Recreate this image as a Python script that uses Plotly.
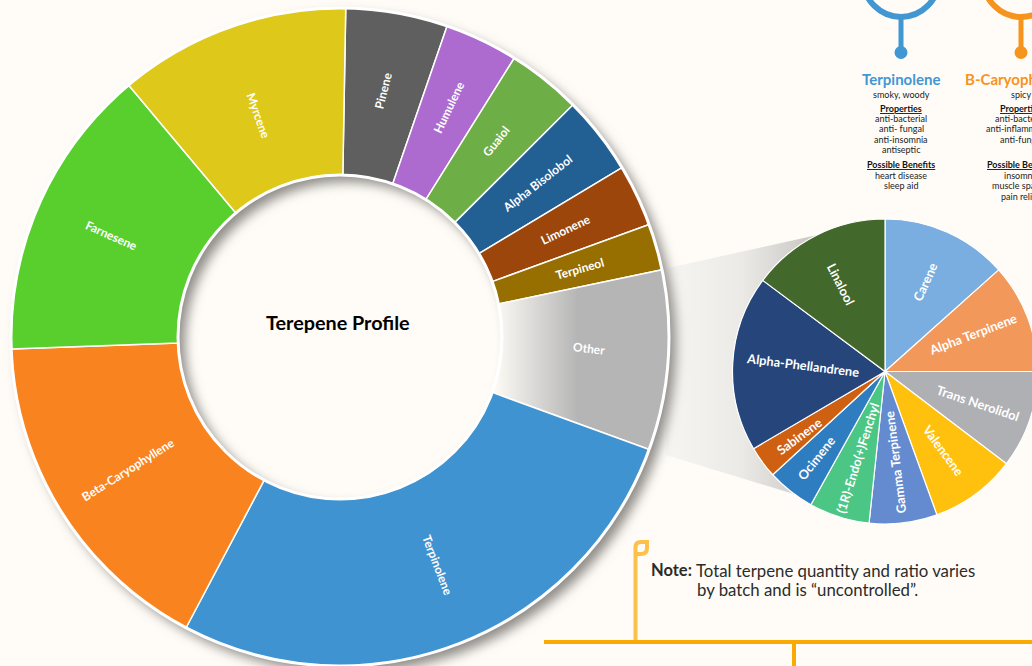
import base64, math
import plotly.graph_objects as go

W, H = 1100, 666
BG = "#FFFCF7"
FONT = "Lato, 'Open Sans', sans-serif"

main_labels = ["Pinene", "Humulene", "Guaiol", "Alpha Bisolobol", "Limonene", "Terpineol", "Other",
               "Terpinolene", "Beta-Caryophyllene", "Farnesene", "Myrcene"]
main_values = [18.0, 13.0, 13.1, 13.9, 11.0, 8.2, 31.8, 97.9, 60.0, 52.1, 41.0]
main_colors = ["#5F5F5F", "#AD6BD0", "#6EAE46", "#225F93", "#9C460B", "#966F00", "#B5B5B5",
               "#3F93D1", "#F9831E", "#58CF2D", "#DEC819"]

other_labels = ["Carene", "Alpha Terpinene", "Trans Nerolidol", "Valencene", "Gamma Terpinene",
                "(1R)-Endo(+)Fenchyl", "Ocimene", "Sabinene", "Alpha-Phellandrene", "Linalool"]
other_values = [48.2, 41.8, 37.2, 32.9, 25.9, 23.1, 18.3, 12.2, 67.1, 53.3]
other_colors = ["#7AAEE0", "#F2985A", "#AFB0B3", "#FFC10E", "#648BCF",
                "#4CC685", "#2F7DC1", "#CF6012", "#26457B", "#43682B"]

cards = [
    dict(x=901, color="#4297D3", name="Terpinolene", aroma="smoky, woody",
         props=["anti-bacterial", "anti- fungal", "anti-insomnia", "antiseptic"],
         bens=["heart disease", "sleep aid"]),
    dict(x=1021, color="#F7941E", name="B-Caryophyllene", aroma="spicy",
         props=["anti-bacterial", "anti-inflammatory", "anti-fungal"],
         bens=["insomnia", "muscle spasms", "pain relief"]),
]

CX, CY, R, RH = 340, 337, 329, 162
SX, SY, SR = 885, 371.5, 152.5
START = 1.0

# label placement: distance from the pie centre, with small nudges in pixels
MAIN_LABEL_R = 250
OTHER_LABEL_R = 98
NUDGE = {"Other": (0, -6), "Myrcene": (2, 14), "Terpinolene": (8, -5), "Humulene": (1, -4),
         "Alpha-Phellandrene": (16, -1), "Gamma Terpinene": (-2, -7), "Ocimene": (-8, 10),
         "Sabinene": (-7, 6), "Carene": (0, 0), "(1R)-Endo(+)Fenchyl": (2, -7),
         "Alpha Terpinene": (-4, -3)}
TILT = {"Other": 3, "Pinene": 4, "Alpha-Phellandrene": 4}


def px(x):
    return x / W


def py(y):
    return 1 - y / H


def pol(cx, cy, r, deg):
    a = math.radians(deg)
    return cx + r * math.sin(a), cy - r * math.cos(a)


def svg_uri(body):
    s = f'<svg xmlns="http://www.w3.org/2000/svg" width="{W}" height="{H}" viewBox="0 0 {W} {H}">{body}</svg>'
    return "data:image/svg+xml;base64," + base64.b64encode(s.encode()).decode()


# backdrop: connector band between the two pies and the donut's drop shadow
band = f"M 668 268 L 817 235 L {SX} {SY} L 797 495 L 666 455 Z"
ring = (f'M {CX-R} {CY} a {R} {R} 0 1 0 {2*R} 0 a {R} {R} 0 1 0 {-2*R} 0 Z '
        f'M {CX-RH} {CY} a {RH} {RH} 0 1 1 {2*RH} 0 a {RH} {RH} 0 1 1 {-2*RH} 0 Z')
under = f'''<defs>
<linearGradient id="b" gradientUnits="userSpaceOnUse" x1="668" y1="0" x2="815" y2="0">
<stop offset="0" stop-color="#F6F5F1"/><stop offset="0.5" stop-color="#EBEAE6"/><stop offset="1" stop-color="#C8C6C2"/></linearGradient>
<filter id="s" x="-10%" y="-10%" width="120%" height="120%"><feGaussianBlur stdDeviation="6"/></filter>
</defs>
<path d="{band}" fill="url(#b)"/>
<g transform="translate(7 7)"><path d="{ring}" fill="#8F8C88" fill-rule="evenodd" filter="url(#s)"/></g>'''

# fade on the inner part of the "Other" slice
a0 = START + sum(main_values[:6])
a1 = a0 + main_values[6]
p1, p2 = pol(CX, CY, R, a0), pol(CX, CY, R, a1)
p3, p4 = pol(CX, CY, RH - 2, a1), pol(CX, CY, RH - 2, a0)
sector = (f"M {p1[0]:.1f} {p1[1]:.1f} A {R} {R} 0 0 1 {p2[0]:.1f} {p2[1]:.1f} "
          f"L {p3[0]:.1f} {p3[1]:.1f} A {RH-2} {RH-2} 0 0 0 {p4[0]:.1f} {p4[1]:.1f} Z")
over = f'''<defs><linearGradient id="f" gradientUnits="userSpaceOnUse" x1="497" y1="0" x2="578" y2="0">
<stop offset="0" stop-color="{BG}" stop-opacity="0.95"/><stop offset="1" stop-color="{BG}" stop-opacity="0"/></linearGradient></defs>
<path d="{sector}" fill="url(#f)"/>'''

images = [
    dict(source=svg_uri(under), xref="paper", yref="paper", x=0, y=1, sizex=1, sizey=1,
         xanchor="left", yanchor="top", sizing="stretch", layer="below"),
    dict(source=svg_uri(over), xref="paper", yref="paper", x=0, y=1, sizex=1, sizey=1,
         xanchor="left", yanchor="top", sizing="stretch", layer="above"),
]

fig = go.Figure()
fig.add_trace(go.Pie(
    labels=main_labels, values=main_values, sort=False, direction="clockwise", rotation=START,
    hole=RH / R, domain=dict(x=[px(CX - R), px(CX + R)], y=[py(CY + R), py(CY - R)]),
    marker=dict(colors=main_colors, line=dict(color="white", width=1.5)),
    textinfo="none", showlegend=False, hoverinfo="label", name="Terpene profile",
))
fig.add_trace(go.Pie(
    labels=other_labels, values=other_values, sort=False, direction="clockwise", rotation=0,
    domain=dict(x=[px(SX - SR), px(SX + SR)], y=[py(SY + SR), py(SY - SR)]),
    marker=dict(colors=other_colors, line=dict(color="white", width=1.2)),
    textinfo="none", showlegend=False, hoverinfo="label", name="Other terpenes",
))


def circle(cx, cy, r, **kw):
    return dict(type="circle", xref="paper", yref="paper", x0=px(cx - r), x1=px(cx + r),
                y0=py(cy + r), y1=py(cy - r), **kw)


def seg(x0, y0, x1, y1, color, width):
    return dict(type="line", xref="paper", yref="paper", x0=px(x0), x1=px(x1), y0=py(y0), y1=py(y1),
                line=dict(color=color, width=width))


def pth(pts):
    return " ".join(f"{c} {px(x):.5f},{py(y):.5f}" for c, x, y in pts)


flag = pth([("M", 635.5, 640), ("L", 635.5, 547), ("Q", 635.5, 542), ("", 641, 542), ("L", 647, 542),
            ("L", 647, 548), ("Q", 647, 554), ("", 641, 554), ("L", 635.5, 554)])

shapes = [
    circle(CX, CY, R, line=dict(color="white", width=3), fillcolor="rgba(0,0,0,0)"),
    circle(CX, CY, RH, line=dict(color="white", width=3), fillcolor="rgba(0,0,0,0)"),
    seg(544, 642, W, 642, "#F9AB04", 4),
    seg(794, 642, 794, 666, "#F9AB04", 4),
    dict(type="path", xref="paper", yref="paper", path=flag, line=dict(color="#FDC04A", width=4),
         fillcolor="rgba(0,0,0,0)"),
]

ann = []


def text(x, y, s, size, color="#222222", bold=False, anchor="center", angle=0):
    ann.append(dict(xref="paper", yref="paper", x=px(x), y=py(y), text=f"<b>{s}</b>" if bold else s,
                    showarrow=False, xanchor=anchor, yanchor="middle", textangle=angle,
                    font=dict(family=FONT, size=size, color=color)))


def slice_labels(labels, values, start, cx, cy, r, size):
    acc = start
    for lab, val in zip(labels, values):
        mid = acc + val / 2
        acc += val
        x, y = pol(cx, cy, r, mid)
        dx, dy = NUDGE.get(lab, (0, 0))
        ang = (mid - 90 if mid < 170 else mid - 270) + TILT.get(lab, 0)
        text(x + dx, y + dy, lab, size, "white", True, "center", ang)


slice_labels(main_labels, main_values, START, CX, CY, MAIN_LABEL_R, 12)
slice_labels(other_labels, other_values, 0, SX, SY, OTHER_LABEL_R, 12.8)

for c in cards:
    x = c["x"]
    shapes.append(circle(x, -20.6, 37.6, line=dict(color=c["color"], width=6), fillcolor=BG))
    shapes.append(seg(x, 18, x, 52, c["color"], 5))
    shapes.append(circle(x, 52.5, 6.5, line=dict(color=c["color"], width=0), fillcolor=c["color"]))
    text(x, 79, c["name"], 15, c["color"], True)
    text(x, 95, c["aroma"], 9)
    text(x, 108.5, "<u>Properties</u>", 9, "#111111", True)
    for i, p in enumerate(c["props"]):
        text(x, 118.5 + i * 10.4, p, 9)
    text(x, 164.5, "<u>Possible Benefits</u>", 9, "#111111", True)
    for i, b in enumerate(c["bens"]):
        text(x, 175.5 + i * 10.4, b, 9)

text(338, 322, "Terepene Profile", 19.8, "#000000", True)
text(649, 570, "Note:", 16.5, "#2B2B2B", True, "left")
text(694, 570, "Total terpene quantity and ratio varies", 16.8, "#2B2B2B", False, "left")
text(695, 589, "by batch and is “uncontrolled”.", 16.8, "#2B2B2B", False, "left")
text(550, 672, "Company information", 18, "#2B2B2B", False, "left")

fig.update_layout(width=W, height=H, autosize=False, margin=dict(l=0, r=0, t=0, b=0),
                  paper_bgcolor=BG, plot_bgcolor=BG, images=images, shapes=shapes, annotations=ann,
                  showlegend=False, font=dict(family=FONT))
fig.write_html("out.html", post_script=(
    "document.documentElement.style.overflow='hidden';"
    "document.body.style.margin='0';document.body.style.overflow='hidden';"
    f"document.body.style.background='{BG}';"), config=dict(displayModeBar=False))
